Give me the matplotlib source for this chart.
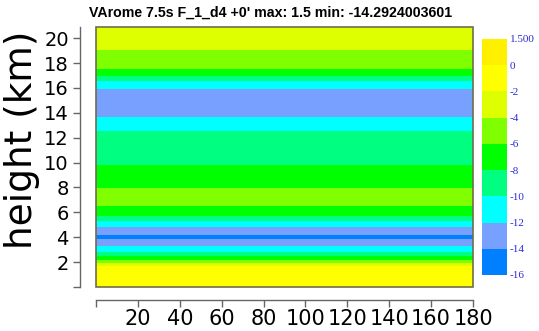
import numpy as np
import matplotlib
matplotlib.use("Agg")
import matplotlib.pyplot as plt
from matplotlib.colors import ListedColormap, BoundaryNorm
from matplotlib.patches import Rectangle
import matplotlib as mpl

# Vertical layering of the field (km) and the value in each layer
layer_edges = [0.0, 1.68, 1.92, 2.21, 2.53, 2.85, 3.29, 3.82, 4.14, 4.86, 5.27,
               5.67, 6.55, 7.95, 9.82, 12.58, 13.66, 15.88, 16.52, 17.0, 17.54,
               19.09, 20.9]
layer_values = [-1.0, -3.0, -5.0, -7.0, -9.0, -11.0, -13.0, -14.2924003601,
                -13.0, -11.0, -9.0, -7.0, -5.0, -7.0, -9.0, -11.0, -13.0,
                -11.0, -9.0, -7.0, -5.0, -3.0]
x_edges = [0, 180]

# Contour levels and colours (low to high)
levels = [-16, -14, -12, -10, -8, -6, -4, -2, 0, 1.5]
level_labels = ["-16", "-14", "-12", "-10", "-8", "-6", "-4", "-2", "0", "1.500"]
level_colors = ["#0080ff", "#78a0ff", "#00ffff", "#00ff80", "#00ff00",
                "#80ff00", "#ddff00", "#ffff00", "#fff000"]

x_ticks = [0, 20, 40, 60, 80, 100, 120, 140, 160, 180]
y_ticks = [0, 2, 4, 6, 8, 10, 12, 14, 16, 18, 20]

W, H = 539, 331
fig = plt.figure(figsize=(W / 100, H / 100), dpi=100)

cmap = ListedColormap(level_colors)
norm = BoundaryNorm(levels, cmap.N)

ax = fig.add_axes([96 / W, (H - 287) / H, 377 / W, 260 / H])
field = np.array(layer_values)[:, None]
ax.pcolormesh(x_edges, layer_edges, field, cmap=cmap, norm=norm, shading="flat")
ax.set_xlim(x_edges[0], x_edges[-1])
ax.set_ylim(layer_edges[0], layer_edges[-1])

# frame around the data area
ax.add_patch(Rectangle((0, 0), 1, 1, transform=ax.transAxes, fill=False,
                       edgecolor="#6e6e4a", lw=1.2, clip_on=False, zorder=5))

for s in ("top", "right"):
    ax.spines[s].set_visible(False)
ax.spines["left"].set_position(("outward", 11.5))
ax.spines["bottom"].set_position(("outward", 9))
for s in ("left", "bottom"):
    ax.spines[s].set_color("#666666")
    ax.spines[s].set_linewidth(1.0)

ax.set_xticks(x_ticks)
ax.set_xticklabels([""] + [str(t) for t in x_ticks[1:]])
ax.set_yticks(y_ticks)
ax.set_yticklabels([""] + [str(t) for t in y_ticks[1:]])
ax.tick_params(axis="both", colors="#666666", labelcolor="black", length=5,
               width=1.0)
ax.tick_params(axis="x", pad=1.5, labelsize=15)
ax.tick_params(axis="y", pad=3, labelsize=14)

fig.text(22 / W, 1 - 140 / H, "height (km)", rotation=90, ha="center",
         va="center", fontsize=27, family="DejaVu Sans")

fig.text(271 / W, 1 - 13 / H,
         "VArome 7.5s F_1_d4 +0' max: 1.5 min: -14.2924003601",
         ha="center", va="center", fontsize=10.2, fontweight="bold",
         family="Liberation Sans")

# colour bar with uniform blocks
cax = fig.add_axes([482 / W, (H - 275) / H, 25 / W, 236 / H])
cb = mpl.colorbar.ColorbarBase(cax, cmap=cmap, norm=norm, boundaries=levels,
                               spacing="uniform", orientation="vertical")
cb.outline.set_visible(False)
cb.set_ticks(levels)
cb.set_ticklabels(level_labels)
cax.tick_params(length=0, pad=2, labelsize=8, labelcolor="#2a2ad8")
for lab in cax.get_yticklabels():
    lab.set_family("Liberation Serif")

fig.savefig("out.png", dpi=100)
